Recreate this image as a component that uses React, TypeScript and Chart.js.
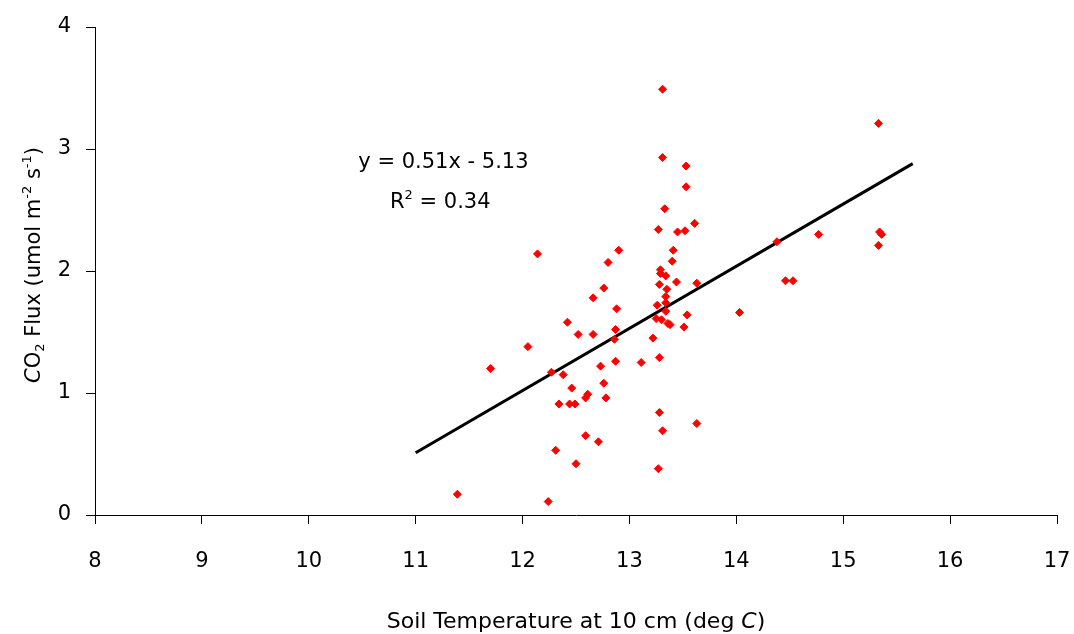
import React, { useEffect, useRef } from "react";
import { Chart, registerables } from "chart.js";

Chart.register(...registerables);

const soilTemp = [
  13.31, 15.33, 13.31, 13.53, 13.53, 13.33, 13.61, 13.27, 13.45, 13.52,
  12.9, 13.41, 12.8, 13.4, 12.14, 14.38, 14.77, 15.34, 15.36, 15.33,
  13.29, 13.29, 13.34, 13.28, 13.44, 13.63, 12.76, 13.35, 14.46, 14.53,
  12.66, 13.34, 13.34, 13.26, 13.34, 12.88, 13.54, 14.03, 13.25, 13.3,
  13.36, 13.38, 13.51, 12.42, 12.52, 12.66, 12.87, 12.86, 13.22, 12.05,
  11.7, 12.27, 12.38, 12.73, 12.87, 13.11, 13.28, 12.46, 12.76, 12.34,
  12.44, 12.49, 12.61, 12.59, 12.78, 13.28, 13.63, 13.31, 12.59, 12.71,
  12.31, 12.5, 13.27, 11.39, 12.24,
];
const co2Flux = [
  3.49, 3.21, 2.93, 2.86, 2.69, 2.51, 2.39, 2.34, 2.32, 2.33,
  2.17, 2.17, 2.07, 2.08, 2.14, 2.24, 2.3, 2.32, 2.3, 2.21,
  2.01, 1.98, 1.96, 1.89, 1.91, 1.9, 1.86, 1.85, 1.92, 1.92,
  1.78, 1.79, 1.74, 1.72, 1.67, 1.69, 1.64, 1.66, 1.61, 1.6,
  1.57, 1.56, 1.54, 1.58, 1.48, 1.48, 1.52, 1.44, 1.45, 1.38,
  1.2, 1.17, 1.15, 1.22, 1.26, 1.25, 1.29, 1.04, 1.08, 0.91,
  0.91, 0.91, 0.99, 0.96, 0.96, 0.84, 0.75, 0.69, 0.65, 0.6,
  0.53, 0.42, 0.38, 0.17, 0.11,
];
const trendX = [11.0, 15.65];
const trendY = [0.51, 2.88];
const equationText = "y = 0.51x - 5.13";
const r2Base = "R";
const r2Sup = "2";
const r2Rest = " = 0.34";
const equationPos = [11.26, 2.885];
const r2Pos = [11.23, 2.58];

// rich-text segments: [text, style] where style: n = normal, i = italic, sub, sup
const xTitleSegments: [string, string][] = [
  ["Soil Temperature at 10 cm (deg ", "n"],
  ["C", "i"],
  [")", "n"],
];
const yTitleSegments: [string, string][] = [
  ["C", "i"],
  ["O", "n"],
  ["2", "sub"],
  [" Flux (umol m", "n"],
  ["-2", "sup"],
  [" s", "n"],
  ["-1", "sup"],
  [")", "n"],
];

const FONT = "'DejaVu Sans', sans-serif";
const TITLE_SIZE = 21;

function segFont(style: string, size: number) {
  if (style === "i") return `italic ${size}px ${FONT}`;
  if (style === "sub" || style === "sup") return `${Math.round(size * 0.62)}px ${FONT}`;
  return `${size}px ${FONT}`;
}

function drawRich(ctx: CanvasRenderingContext2D, segs: [string, string][], size: number) {
  // draws centred at origin, alphabetic baseline offset so text is vertically centred
  let total = 0;
  const widths = segs.map(([t, s]) => {
    ctx.font = segFont(s, size);
    const w = ctx.measureText(t).width;
    total += w;
    return w;
  });
  let x = -total / 2;
  const base = size * 0.36;
  ctx.textAlign = "left";
  ctx.textBaseline = "alphabetic";
  segs.forEach(([t, s], i) => {
    ctx.font = segFont(s, size);
    let dy = 0;
    if (s === "sub") dy = size * 0.22;
    if (s === "sup") dy = -size * 0.42;
    ctx.fillText(t, x, base + dy);
    x += widths[i];
  });
}

const textPlugin = {
  id: "richText",
  afterDatasetsDraw(chart: any) {
    const { ctx, scales, chartArea } = chart;
    const xs = scales.x;
    const ys = scales.y;
    ctx.save();
    ctx.fillStyle = "#000";
    // regression equation
    ctx.font = `21px ${FONT}`;
    ctx.textAlign = "center";
    ctx.textBaseline = "middle";
    ctx.fillText(equationText, xs.getPixelForValue(equationPos[0]), ys.getPixelForValue(equationPos[1]));
    ctx.save();
    ctx.translate(xs.getPixelForValue(r2Pos[0]), ys.getPixelForValue(r2Pos[1]));
    drawRich(ctx, [[r2Base, "n"], [r2Sup, "sup"], [r2Rest, "n"]], 21);
    ctx.restore();
    // x title
    ctx.save();
    ctx.translate((chartArea.left + chartArea.right) / 2, chart.height - 14);
    drawRich(ctx, xTitleSegments, TITLE_SIZE + 1);
    ctx.restore();
    // y title
    ctx.save();
    ctx.translate(32, (chartArea.top + chartArea.bottom) / 2 - 6);
    ctx.rotate(-Math.PI / 2);
    drawRich(ctx, yTitleSegments, TITLE_SIZE);
    ctx.restore();
    ctx.restore();
  },
};

export default function App() {
  const ref = useRef<HTMLCanvasElement | null>(null);
  useEffect(() => {
    if (!ref.current) return;
    const points = soilTemp.map((x, i) => ({ x, y: co2Flux[i] }));
    const trend = trendX.map((x, i) => ({ x, y: trendY[i] }));
    const chart = new Chart(ref.current, {
      type: "scatter",
      data: {
        datasets: [
          {
            type: "line",
            data: trend,
            borderColor: "#000",
            borderWidth: 3,
            pointRadius: 0,
            fill: false,
            order: 2,
          } as any,
          {
            data: points,
            pointStyle: "rectRot",
            pointRadius: 4,
            pointBorderWidth: 1,
            pointBackgroundColor: "#ff0000",
            pointBorderColor: "#ff0000",
            order: 1,
          },
        ],
      },
      options: {
        responsive: false,
        animation: false,
        layout: { padding: { left: 0, top: 27, right: 17, bottom: 0 } },
        plugins: { legend: { display: false }, tooltip: { enabled: false } },
        scales: {
          x: {
            type: "linear",
            min: 8,
            max: 17,
            ticks: { stepSize: 1, color: "#000", font: { family: FONT, size: 21 }, padding: 25 },
            grid: { drawOnChartArea: false, drawTicks: true, tickLength: 9, color: "#000" },
            border: { display: true, color: "#000", width: 1 },
            title: { display: false },
            afterFit(scale: any) {
              scale.height = 119;
              scale.paddingLeft = 0;
              scale.paddingRight = 0;
            },
          },
          y: {
            type: "linear",
            min: 0,
            max: 4,
            ticks: { stepSize: 1, color: "#000", font: { family: FONT, size: 21 }, padding: 15 },
            grid: { drawOnChartArea: false, drawTicks: true, tickLength: 9, color: "#000" },
            border: { display: true, color: "#000", width: 1 },
            title: { display: false },
            afterFit(scale: any) {
              scale.width = 95;
              scale.paddingTop = 0;
              scale.paddingBottom = 0;
            },
          },
        },
      },
      plugins: [textPlugin],
    });
    return () => chart.destroy();
  }, []);
  return (
    <div style={{ position: "fixed", left: 0, top: 0, width: 1074, height: 634, background: "#fff" }}>
      <canvas ref={ref} width={1074} height={634} />
    </div>
  );
}
